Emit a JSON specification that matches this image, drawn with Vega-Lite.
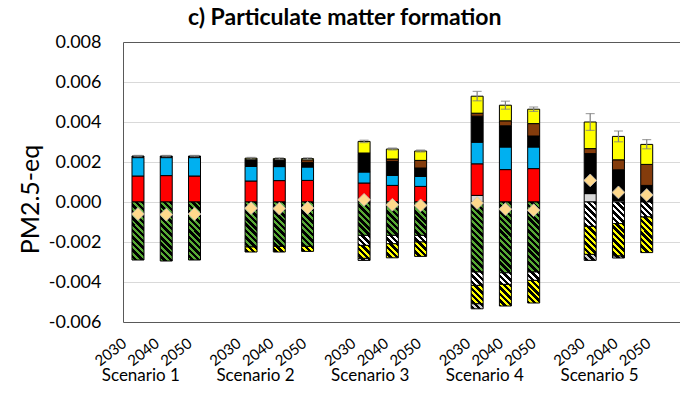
{
  "$schema": "https://vega.github.io/schema/vega-lite/v6.json",
  "width": 557,
  "height": 280,
  "autosize": {"type": "none"},
  "padding": {"left": 123, "top": 42, "right": 0, "bottom": 86},
  "background": "white",
  "title": {"text": "c) Particulate matter formation", "anchor": "start", "frame": "group", "dx": 65, "offset": -15, "baseline": "alphabetic", "font": "Lato", "fontSize": 23, "fontWeight": "bold", "color": "black"},
  "params": [
    {"name": "stopsGreen", "value": [{"offset":0,"color":"#000"},{"offset":0.0393,"color":"#000"},{"offset":0.0393,"color":"#58AA35"},{"offset":0.0714,"color":"#58AA35"},{"offset":0.0714,"color":"#000"},{"offset":0.1107,"color":"#000"},{"offset":0.1107,"color":"#58AA35"},{"offset":0.1429,"color":"#58AA35"},{"offset":0.1429,"color":"#000"},{"offset":0.1821,"color":"#000"},{"offset":0.1821,"color":"#58AA35"},{"offset":0.2143,"color":"#58AA35"},{"offset":0.2143,"color":"#000"},{"offset":0.2536,"color":"#000"},{"offset":0.2536,"color":"#58AA35"},{"offset":0.2857,"color":"#58AA35"},{"offset":0.2857,"color":"#000"},{"offset":0.325,"color":"#000"},{"offset":0.325,"color":"#58AA35"},{"offset":0.3571,"color":"#58AA35"},{"offset":0.3571,"color":"#000"},{"offset":0.3964,"color":"#000"},{"offset":0.3964,"color":"#58AA35"},{"offset":0.4286,"color":"#58AA35"},{"offset":0.4286,"color":"#000"},{"offset":0.4679,"color":"#000"},{"offset":0.4679,"color":"#58AA35"},{"offset":0.5,"color":"#58AA35"},{"offset":0.5,"color":"#000"},{"offset":0.5393,"color":"#000"},{"offset":0.5393,"color":"#58AA35"},{"offset":0.5714,"color":"#58AA35"},{"offset":0.5714,"color":"#000"},{"offset":0.6107,"color":"#000"},{"offset":0.6107,"color":"#58AA35"},{"offset":0.6429,"color":"#58AA35"},{"offset":0.6429,"color":"#000"},{"offset":0.6821,"color":"#000"},{"offset":0.6821,"color":"#58AA35"},{"offset":0.7143,"color":"#58AA35"},{"offset":0.7143,"color":"#000"},{"offset":0.7536,"color":"#000"},{"offset":0.7536,"color":"#58AA35"},{"offset":0.7857,"color":"#58AA35"},{"offset":0.7857,"color":"#000"},{"offset":0.825,"color":"#000"},{"offset":0.825,"color":"#58AA35"},{"offset":0.8571,"color":"#58AA35"},{"offset":0.8571,"color":"#000"},{"offset":0.8964,"color":"#000"},{"offset":0.8964,"color":"#58AA35"},{"offset":0.9286,"color":"#58AA35"},{"offset":0.9286,"color":"#000"},{"offset":0.9679,"color":"#000"},{"offset":0.9679,"color":"#58AA35"},{"offset":1,"color":"#58AA35"}]},
    {"name": "stopsWhite", "value": [{"offset":0,"color":"#000"},{"offset":0.0393,"color":"#000"},{"offset":0.0393,"color":"#FFFFFF"},{"offset":0.0714,"color":"#FFFFFF"},{"offset":0.0714,"color":"#000"},{"offset":0.1107,"color":"#000"},{"offset":0.1107,"color":"#FFFFFF"},{"offset":0.1429,"color":"#FFFFFF"},{"offset":0.1429,"color":"#000"},{"offset":0.1821,"color":"#000"},{"offset":0.1821,"color":"#FFFFFF"},{"offset":0.2143,"color":"#FFFFFF"},{"offset":0.2143,"color":"#000"},{"offset":0.2536,"color":"#000"},{"offset":0.2536,"color":"#FFFFFF"},{"offset":0.2857,"color":"#FFFFFF"},{"offset":0.2857,"color":"#000"},{"offset":0.325,"color":"#000"},{"offset":0.325,"color":"#FFFFFF"},{"offset":0.3571,"color":"#FFFFFF"},{"offset":0.3571,"color":"#000"},{"offset":0.3964,"color":"#000"},{"offset":0.3964,"color":"#FFFFFF"},{"offset":0.4286,"color":"#FFFFFF"},{"offset":0.4286,"color":"#000"},{"offset":0.4679,"color":"#000"},{"offset":0.4679,"color":"#FFFFFF"},{"offset":0.5,"color":"#FFFFFF"},{"offset":0.5,"color":"#000"},{"offset":0.5393,"color":"#000"},{"offset":0.5393,"color":"#FFFFFF"},{"offset":0.5714,"color":"#FFFFFF"},{"offset":0.5714,"color":"#000"},{"offset":0.6107,"color":"#000"},{"offset":0.6107,"color":"#FFFFFF"},{"offset":0.6429,"color":"#FFFFFF"},{"offset":0.6429,"color":"#000"},{"offset":0.6821,"color":"#000"},{"offset":0.6821,"color":"#FFFFFF"},{"offset":0.7143,"color":"#FFFFFF"},{"offset":0.7143,"color":"#000"},{"offset":0.7536,"color":"#000"},{"offset":0.7536,"color":"#FFFFFF"},{"offset":0.7857,"color":"#FFFFFF"},{"offset":0.7857,"color":"#000"},{"offset":0.825,"color":"#000"},{"offset":0.825,"color":"#FFFFFF"},{"offset":0.8571,"color":"#FFFFFF"},{"offset":0.8571,"color":"#000"},{"offset":0.8964,"color":"#000"},{"offset":0.8964,"color":"#FFFFFF"},{"offset":0.9286,"color":"#FFFFFF"},{"offset":0.9286,"color":"#000"},{"offset":0.9679,"color":"#000"},{"offset":0.9679,"color":"#FFFFFF"},{"offset":1,"color":"#FFFFFF"}]},
    {"name": "stopsYellow", "value": [{"offset":0,"color":"#000"},{"offset":0.0393,"color":"#000"},{"offset":0.0393,"color":"#FFFF00"},{"offset":0.0714,"color":"#FFFF00"},{"offset":0.0714,"color":"#000"},{"offset":0.1107,"color":"#000"},{"offset":0.1107,"color":"#FFFF00"},{"offset":0.1429,"color":"#FFFF00"},{"offset":0.1429,"color":"#000"},{"offset":0.1821,"color":"#000"},{"offset":0.1821,"color":"#FFFF00"},{"offset":0.2143,"color":"#FFFF00"},{"offset":0.2143,"color":"#000"},{"offset":0.2536,"color":"#000"},{"offset":0.2536,"color":"#FFFF00"},{"offset":0.2857,"color":"#FFFF00"},{"offset":0.2857,"color":"#000"},{"offset":0.325,"color":"#000"},{"offset":0.325,"color":"#FFFF00"},{"offset":0.3571,"color":"#FFFF00"},{"offset":0.3571,"color":"#000"},{"offset":0.3964,"color":"#000"},{"offset":0.3964,"color":"#FFFF00"},{"offset":0.4286,"color":"#FFFF00"},{"offset":0.4286,"color":"#000"},{"offset":0.4679,"color":"#000"},{"offset":0.4679,"color":"#FFFF00"},{"offset":0.5,"color":"#FFFF00"},{"offset":0.5,"color":"#000"},{"offset":0.5393,"color":"#000"},{"offset":0.5393,"color":"#FFFF00"},{"offset":0.5714,"color":"#FFFF00"},{"offset":0.5714,"color":"#000"},{"offset":0.6107,"color":"#000"},{"offset":0.6107,"color":"#FFFF00"},{"offset":0.6429,"color":"#FFFF00"},{"offset":0.6429,"color":"#000"},{"offset":0.6821,"color":"#000"},{"offset":0.6821,"color":"#FFFF00"},{"offset":0.7143,"color":"#FFFF00"},{"offset":0.7143,"color":"#000"},{"offset":0.7536,"color":"#000"},{"offset":0.7536,"color":"#FFFF00"},{"offset":0.7857,"color":"#FFFF00"},{"offset":0.7857,"color":"#000"},{"offset":0.825,"color":"#000"},{"offset":0.825,"color":"#FFFF00"},{"offset":0.8571,"color":"#FFFF00"},{"offset":0.8571,"color":"#000"},{"offset":0.8964,"color":"#000"},{"offset":0.8964,"color":"#FFFF00"},{"offset":0.9286,"color":"#FFFF00"},{"offset":0.9286,"color":"#000"},{"offset":0.9679,"color":"#000"},{"offset":0.9679,"color":"#FFFF00"},{"offset":1,"color":"#FFFF00"}]},
    {"name": "stopsGray", "value": [{"offset":0,"color":"#000"},{"offset":0.0393,"color":"#000"},{"offset":0.0393,"color":"#D0D0D0"},{"offset":0.0714,"color":"#D0D0D0"},{"offset":0.0714,"color":"#000"},{"offset":0.1107,"color":"#000"},{"offset":0.1107,"color":"#D0D0D0"},{"offset":0.1429,"color":"#D0D0D0"},{"offset":0.1429,"color":"#000"},{"offset":0.1821,"color":"#000"},{"offset":0.1821,"color":"#D0D0D0"},{"offset":0.2143,"color":"#D0D0D0"},{"offset":0.2143,"color":"#000"},{"offset":0.2536,"color":"#000"},{"offset":0.2536,"color":"#D0D0D0"},{"offset":0.2857,"color":"#D0D0D0"},{"offset":0.2857,"color":"#000"},{"offset":0.325,"color":"#000"},{"offset":0.325,"color":"#D0D0D0"},{"offset":0.3571,"color":"#D0D0D0"},{"offset":0.3571,"color":"#000"},{"offset":0.3964,"color":"#000"},{"offset":0.3964,"color":"#D0D0D0"},{"offset":0.4286,"color":"#D0D0D0"},{"offset":0.4286,"color":"#000"},{"offset":0.4679,"color":"#000"},{"offset":0.4679,"color":"#D0D0D0"},{"offset":0.5,"color":"#D0D0D0"},{"offset":0.5,"color":"#000"},{"offset":0.5393,"color":"#000"},{"offset":0.5393,"color":"#D0D0D0"},{"offset":0.5714,"color":"#D0D0D0"},{"offset":0.5714,"color":"#000"},{"offset":0.6107,"color":"#000"},{"offset":0.6107,"color":"#D0D0D0"},{"offset":0.6429,"color":"#D0D0D0"},{"offset":0.6429,"color":"#000"},{"offset":0.6821,"color":"#000"},{"offset":0.6821,"color":"#D0D0D0"},{"offset":0.7143,"color":"#D0D0D0"},{"offset":0.7143,"color":"#000"},{"offset":0.7536,"color":"#000"},{"offset":0.7536,"color":"#D0D0D0"},{"offset":0.7857,"color":"#D0D0D0"},{"offset":0.7857,"color":"#000"},{"offset":0.825,"color":"#000"},{"offset":0.825,"color":"#D0D0D0"},{"offset":0.8571,"color":"#D0D0D0"},{"offset":0.8571,"color":"#000"},{"offset":0.8964,"color":"#000"},{"offset":0.8964,"color":"#D0D0D0"},{"offset":0.9286,"color":"#D0D0D0"},{"offset":0.9286,"color":"#000"},{"offset":0.9679,"color":"#000"},{"offset":0.9679,"color":"#D0D0D0"},{"offset":1,"color":"#D0D0D0"}]}
  ],
  "datasets": {
    "seg": [
      {"slot":"S1 2030","comp":"Red","v":0.0013},{"slot":"S1 2030","comp":"Blue","v":0.00092},{"slot":"S1 2030","comp":"Black","v":0.00008},{"slot":"S1 2030","comp":"GreenHatch","v":-0.0029},
      {"slot":"S1 2040","comp":"Red","v":0.00132},{"slot":"S1 2040","comp":"Blue","v":0.0009},{"slot":"S1 2040","comp":"Black","v":0.00008},{"slot":"S1 2040","comp":"GreenHatch","v":-0.00295},
      {"slot":"S1 2050","comp":"Red","v":0.0013},{"slot":"S1 2050","comp":"Blue","v":0.00092},{"slot":"S1 2050","comp":"Black","v":0.00008},{"slot":"S1 2050","comp":"GreenHatch","v":-0.0029},
      {"slot":"S2 2030","comp":"Red","v":0.00105},{"slot":"S2 2030","comp":"Blue","v":0.00073},{"slot":"S2 2030","comp":"Black","v":0.00033},{"slot":"S2 2030","comp":"Brown","v":0.00003},{"slot":"S2 2030","comp":"Yellow","v":0.00005},{"slot":"S2 2030","comp":"GreenHatch","v":-0.00225},{"slot":"S2 2030","comp":"YellowHatch","v":-0.00025},
      {"slot":"S2 2040","comp":"Red","v":0.00107},{"slot":"S2 2040","comp":"Blue","v":0.0007},{"slot":"S2 2040","comp":"Black","v":0.00032},{"slot":"S2 2040","comp":"Brown","v":0.00003},{"slot":"S2 2040","comp":"Yellow","v":0.00005},{"slot":"S2 2040","comp":"GreenHatch","v":-0.00222},{"slot":"S2 2040","comp":"YellowHatch","v":-0.00028},
      {"slot":"S2 2050","comp":"Red","v":0.00108},{"slot":"S2 2050","comp":"Blue","v":0.00067},{"slot":"S2 2050","comp":"Black","v":0.00023},{"slot":"S2 2050","comp":"Brown","v":0.00013},{"slot":"S2 2050","comp":"Yellow","v":0.00006},{"slot":"S2 2050","comp":"GreenHatch","v":-0.00222},{"slot":"S2 2050","comp":"YellowHatch","v":-0.00025},
      {"slot":"S3 2030","comp":"Red","v":0.00095},{"slot":"S3 2030","comp":"Blue","v":0.00055},{"slot":"S3 2030","comp":"Black","v":0.00092},{"slot":"S3 2030","comp":"Brown","v":0.00003},{"slot":"S3 2030","comp":"Yellow","v":0.00058},{"slot":"S3 2030","comp":"GreenHatch","v":-0.00167},{"slot":"S3 2030","comp":"WhiteHatch","v":-0.0005},{"slot":"S3 2030","comp":"YellowHatch","v":-0.00065},{"slot":"S3 2030","comp":"GrayHatch","v":-0.0001},
      {"slot":"S3 2040","comp":"Red","v":0.00083},{"slot":"S3 2040","comp":"Blue","v":0.0005},{"slot":"S3 2040","comp":"Black","v":0.0007},{"slot":"S3 2040","comp":"Brown","v":0.00012},{"slot":"S3 2040","comp":"Yellow","v":0.0005},{"slot":"S3 2040","comp":"GreenHatch","v":-0.00167},{"slot":"S3 2040","comp":"WhiteHatch","v":-0.00042},{"slot":"S3 2040","comp":"YellowHatch","v":-0.0007},
      {"slot":"S3 2050","comp":"Red","v":0.00078},{"slot":"S3 2050","comp":"Blue","v":0.0005},{"slot":"S3 2050","comp":"Black","v":0.00042},{"slot":"S3 2050","comp":"Brown","v":0.00038},{"slot":"S3 2050","comp":"Yellow","v":0.00047},{"slot":"S3 2050","comp":"GreenHatch","v":-0.00167},{"slot":"S3 2050","comp":"WhiteHatch","v":-0.00033},{"slot":"S3 2050","comp":"YellowHatch","v":-0.00072},
      {"slot":"S4 2030","comp":"Gray","v":0.00033},{"slot":"S4 2030","comp":"Red","v":0.00158},{"slot":"S4 2030","comp":"Blue","v":0.00108},{"slot":"S4 2030","comp":"Black","v":0.0013},{"slot":"S4 2030","comp":"Brown","v":0.00015},{"slot":"S4 2030","comp":"Yellow","v":0.00085},{"slot":"S4 2030","comp":"GreenHatch","v":-0.0035},{"slot":"S4 2030","comp":"WhiteHatch","v":-0.00067},{"slot":"S4 2030","comp":"YellowHatch","v":-0.00092},{"slot":"S4 2030","comp":"GrayHatch","v":-0.00025},
      {"slot":"S4 2040","comp":"Red","v":0.00162},{"slot":"S4 2040","comp":"Blue","v":0.00113},{"slot":"S4 2040","comp":"Black","v":0.00106},{"slot":"S4 2040","comp":"Brown","v":0.00025},{"slot":"S4 2040","comp":"Yellow","v":0.00078},{"slot":"S4 2040","comp":"GreenHatch","v":-0.00354},{"slot":"S4 2040","comp":"WhiteHatch","v":-0.00058},{"slot":"S4 2040","comp":"YellowHatch","v":-0.00108},
      {"slot":"S4 2050","comp":"Red","v":0.00167},{"slot":"S4 2050","comp":"Blue","v":0.00108},{"slot":"S4 2050","comp":"Black","v":0.00055},{"slot":"S4 2050","comp":"Brown","v":0.00062},{"slot":"S4 2050","comp":"Yellow","v":0.00072},{"slot":"S4 2050","comp":"GreenHatch","v":-0.0035},{"slot":"S4 2050","comp":"WhiteHatch","v":-0.00042},{"slot":"S4 2050","comp":"YellowHatch","v":-0.00113},
      {"slot":"S5 2030","comp":"Gray","v":0.00042},{"slot":"S5 2030","comp":"Black","v":0.002},{"slot":"S5 2030","comp":"Brown","v":0.00025},{"slot":"S5 2030","comp":"Yellow","v":0.00133},{"slot":"S5 2030","comp":"WhiteHatch","v":-0.00122},{"slot":"S5 2030","comp":"YellowHatch","v":-0.0014},{"slot":"S5 2030","comp":"GrayHatch","v":-0.0003},
      {"slot":"S5 2040","comp":"Gray","v":0.00008},{"slot":"S5 2040","comp":"Black","v":0.00153},{"slot":"S5 2040","comp":"Brown","v":0.0005},{"slot":"S5 2040","comp":"Yellow","v":0.00117},{"slot":"S5 2040","comp":"WhiteHatch","v":-0.00108},{"slot":"S5 2040","comp":"YellowHatch","v":-0.00162},{"slot":"S5 2040","comp":"GrayHatch","v":-0.0001},
      {"slot":"S5 2050","comp":"Black","v":0.00083},{"slot":"S5 2050","comp":"Brown","v":0.00105},{"slot":"S5 2050","comp":"Yellow","v":0.001},{"slot":"S5 2050","comp":"WhiteHatch","v":-0.00075},{"slot":"S5 2050","comp":"YellowHatch","v":-0.00178}
    ],
    "tot": [
      {"slot":"S1 2030","net":-0.0006,"lo":0.00227,"hi":0.00233},
      {"slot":"S1 2040","net":-0.00063,"lo":0.00227,"hi":0.00233},
      {"slot":"S1 2050","net":-0.0006,"lo":0.00227,"hi":0.00233},
      {"slot":"S2 2030","net":-0.00031,"lo":0.00215,"hi":0.00223},
      {"slot":"S2 2040","net":-0.00033,"lo":0.00213,"hi":0.00221},
      {"slot":"S2 2050","net":-0.0003,"lo":0.00213,"hi":0.00221},
      {"slot":"S3 2030","net":0.00011,"lo":0.00297,"hi":0.00309},
      {"slot":"S3 2040","net":-0.00014,"lo":0.0026,"hi":0.0027},
      {"slot":"S3 2050","net":-0.00017,"lo":0.0025,"hi":0.0026},
      {"slot":"S4 2030","net":-0.00005,"lo":0.00506,"hi":0.00553},
      {"slot":"S4 2040","net":-0.00036,"lo":0.00464,"hi":0.00504},
      {"slot":"S4 2050","net":-0.00041,"lo":0.00453,"hi":0.00475},
      {"slot":"S5 2030","net":0.00108,"lo":0.00358,"hi":0.00442},
      {"slot":"S5 2040","net":0.00048,"lo":0.00301,"hi":0.00355},
      {"slot":"S5 2050","net":0.00035,"lo":0.00266,"hi":0.00312}
    ]
  },
  "layer": [
    {
      "layer": [
        {
          "data": {"name": "seg"},
          "transform": [
            {"stack": "v", "groupby": ["slot"], "as": ["v0", "v1"], "offset": "zero"},
            {"filter": "indexof(datum.comp, 'Hatch') < 0"}
          ],
          "mark": {"type": "bar", "stroke": "black", "strokeWidth": 1},
          "encoding": {
            "x": {"field": "slot", "type": "nominal", "axis": null,
              "scale": {"type": "band", "domain": ["S1 2030","S1 2040","S1 2050","gap1","S2 2030","S2 2040","S2 2050","gap2","S3 2030","S3 2040","S3 2050","gap3","S4 2030","S4 2040","S4 2050","gap4","S5 2030","S5 2040","S5 2050"], "paddingInner": 0.576, "paddingOuter": 0.642, "align": 0.248}},
            "y": {"field": "v0", "type": "quantitative", "title": "PM2.5-eq",
              "scale": {"domain": [-0.006, 0.008], "nice": false, "zero": false},
              "axis": {"values": [-0.006,-0.004,-0.002,0,0.002,0.004,0.006,0.008]}},
            "y2": {"field": "v1"},
            "fill": {"field": "comp", "type": "nominal", "legend": null,
              "scale": {"domain": ["Gray","Red","Blue","Black","Brown","Yellow"], "range": ["#D9D9D9","#FF0000","#00B0F0","#000000","#843C0C","#FFFF00"]}}
          }
        },
        {
          "data": {"name": "seg"},
          "transform": [
            {"stack": "v", "groupby": ["slot"], "as": ["v0", "v1"], "offset": "zero"},
            {"filter": "indexof(datum.comp, 'Hatch') >= 0"}
          ],
          "mark": {"type": "bar", "stroke": "black", "strokeWidth": 1,
            "fill": {"expr": "{gradient: 'linear', x1: 1, y1: 0, x2: 1 - 12 * 89.6 / (144 + pow(scale('y', datum.v1) - scale('y', datum.v0), 2)), y2: abs(scale('y', datum.v1) - scale('y', datum.v0)) * 89.6 / (144 + pow(scale('y', datum.v1) - scale('y', datum.v0), 2)), stops: datum.comp == 'GreenHatch' ? stopsGreen : datum.comp == 'WhiteHatch' ? stopsWhite : datum.comp == 'YellowHatch' ? stopsYellow : stopsGray}"}},
          "encoding": {
            "x": {"field": "slot", "type": "nominal", "axis": null},
            "y": {"field": "v0", "type": "quantitative", "title": "PM2.5-eq", "axis": {"values": [-0.006,-0.004,-0.002,0,0.002,0.004,0.006,0.008]}},
            "y2": {"field": "v1"}
          }
        },
        {
          "data": {"name": "tot"},
          "mark": {"type": "errorbar", "ticks": {"size": 9}, "color": "#7F7F7F", "thickness": 1.2},
          "encoding": {
            "x": {"field": "slot", "type": "nominal", "axis": null},
            "y": {"field": "lo", "type": "quantitative", "title": "PM2.5-eq", "axis": {"values": [-0.006,-0.004,-0.002,0,0.002,0.004,0.006,0.008]}},
            "y2": {"field": "hi"}
          }
        },
        {
          "data": {"name": "tot"},
          "mark": {"type": "point", "shape": "diamond", "filled": true, "size": 165, "fill": "#FFD98C", "stroke": "#BFBFBF", "strokeWidth": 0.8, "opacity": 1},
          "encoding": {
            "x": {"field": "slot", "type": "nominal", "axis": null},
            "y": {"field": "net", "type": "quantitative", "title": "PM2.5-eq", "axis": {"values": [-0.006,-0.004,-0.002,0,0.002,0.004,0.006,0.008]}}
          }
        }
      ]
    },
    {
      "data": {"name": "tot"},
      "mark": {"type": "rule", "opacity": 0},
      "encoding": {
        "x": {"field": "slot", "type": "nominal",
          "scale": {"type": "point", "domain": ["S1 2030","S1 a","S1 2040","S1 b","S1 2050","S1 c","S1 d","S2 2030","S2 a","S2 2040","S2 b","S2 2050","S2 c","S2 d","S3 2030","S3 a","S3 2040","S3 b","S3 2050","S3 c","S3 d","S4 2030","S4 a","S4 2040","S4 b","S4 2050","S4 c","S4 d","S5 2030","S5 a","S5 2040","S5 b","S5 2050"], "padding": 2.96, "align": 0.029},
          "axis": {"orient": "bottom", "title": null, "labelExpr": "length(datum.value) == 7 ? slice(datum.value, 3) : ''",
            "labelAngle": -38, "labelAlign": "right", "labelBaseline": "middle", "labelPadding": 19,
            "ticks": false, "domain": false, "grid": false, "labelFont": "Lato", "labelFontSize": 15, "labelColor": "black", "labelOverlap": false, "labelBound": false}}
      }
    },
    {
      "data": {"name": "tot"},
      "mark": {"type": "rule", "opacity": 0},
      "encoding": {
        "x": {"field": "slot", "type": "nominal",
          "scale": {"type": "point", "domain": ["S1 2030","S1 a","S1 2040","S1 b","S1 2050","S1 c","S1 d","S2 2030","S2 a","S2 2040","S2 b","S2 2050","S2 c","S2 d","S3 2030","S3 a","S3 2040","S3 b","S3 2050","S3 c","S3 d","S4 2030","S4 a","S4 2040","S4 b","S4 2050","S4 c","S4 d","S5 2030","S5 a","S5 2040","S5 b","S5 2050"], "padding": 2.96, "align": 0.029},
          "axis": {"orient": "bottom", "title": null, "labelExpr": "slice(datum.value, 3) == 'a' ? 'Scenario ' + slice(datum.value, 1, 2) : ''",
            "labelAngle": 0, "labelAlign": "center", "labelBaseline": "alphabetic", "labelPadding": 58,
            "ticks": false, "domain": false, "grid": false, "labelFont": "Lato", "labelFontSize": 17, "labelColor": "black", "labelOverlap": false, "labelBound": false}}
      }
    }
  ],
  "resolve": {"scale": {"x": "independent"}, "axis": {"x": "independent"}},
  "config": {
    "font": "Lato",
    "view": {"stroke": null},
    "axisY": {
      "labelExpr": "replace(format(datum.value, '.3f'), '\u2212', '-')",
      "domainColor": "#595959", "domainWidth": 1, "ticks": false, "grid": true,
      "gridColor": {"condition": {"test": "datum.value > 0.0079 || datum.value < -0.0059", "value": "#595959"}, "value": "#D9D9D9"},
      "labelFont": "Lato", "labelFontSize": 18, "labelColor": "black", "labelPadding": 22, "labelFlush": false, "labelOverlap": false,
      "titleFont": "Lato", "titleFontSize": 25, "titleFontWeight": "normal", "titleColor": "black",
      "titleX": -85, "titleY": 157, "titleAngle": 270, "titleAlign": "center", "titleBaseline": "alphabetic"
    }
  }
}
